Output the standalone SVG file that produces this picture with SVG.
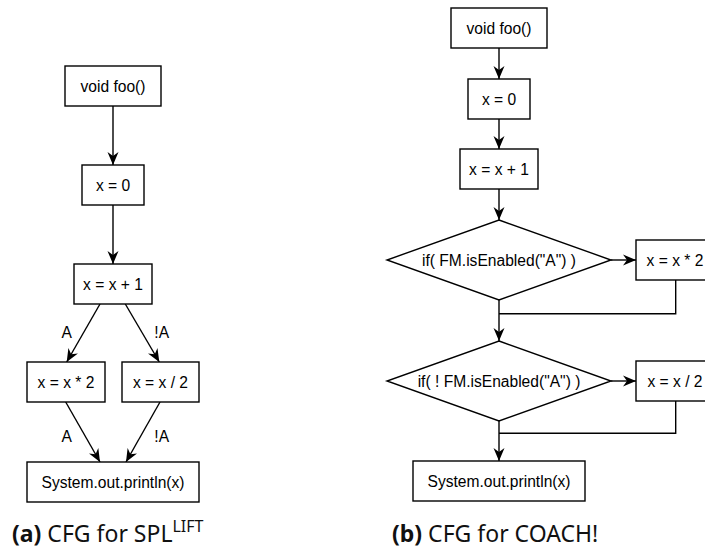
<svg xmlns="http://www.w3.org/2000/svg" width="705" height="547" viewBox="0 0 705 547">
<defs>
<style>
.box{fill:#fff;stroke:#000;stroke-width:1.4}
.t{font-family:"Liberation Sans",Arial,sans-serif;font-size:15.6px;fill:#000;text-anchor:middle}
.e{fill:none;stroke:#000;stroke-width:1.4}
.cap{font-family:"Noto Sans","Open Sans",sans-serif;font-size:23px;fill:#111}
</style>
<marker id="arr" markerUnits="userSpaceOnUse" markerWidth="14" markerHeight="12" refX="13" refY="6" orient="auto" viewBox="0 0 14 12">
<path d="M0,0.5 L13,6 L0,11.5 L4,6 Z" fill="#000"/>
</marker>
</defs>
<rect width="705" height="547" fill="#fff"/>

<g id="connectors">
<line class="e" x1="113" y1="106" x2="113" y2="165" marker-end="url(#arr)"/>
<line class="e" x1="113" y1="205" x2="113" y2="264" marker-end="url(#arr)"/>
<line class="e" x1="100" y1="304" x2="66.7" y2="362" marker-end="url(#arr)"/>
<line class="e" x1="125.3" y1="304" x2="159.3" y2="362" marker-end="url(#arr)"/>
<line class="e" x1="65.7" y1="402" x2="100" y2="462" marker-end="url(#arr)"/>
<line class="e" x1="160" y1="402" x2="126" y2="462" marker-end="url(#arr)"/>
<text class="t" x="66.7" y="337.5">A</text>
<text class="t" x="161.7" y="337.5">!A</text>
<text class="t" x="66.7" y="442">A</text>
<text class="t" x="161.7" y="442">!A</text>

<line class="e" x1="499" y1="48" x2="499" y2="79" marker-end="url(#arr)"/>
<line class="e" x1="499" y1="119" x2="499" y2="149" marker-end="url(#arr)"/>
<line class="e" x1="499" y1="189" x2="499" y2="220" marker-end="url(#arr)"/>
<line class="e" x1="611" y1="260" x2="636" y2="260" marker-end="url(#arr)"/>
<polyline class="e" points="675.7,280 675.7,313.7 499,313.7"/>
<line class="e" x1="499" y1="300" x2="499" y2="341" marker-end="url(#arr)"/>
<line class="e" x1="611" y1="381" x2="636" y2="381" marker-end="url(#arr)"/>
<polyline class="e" points="675.7,401 675.7,433.3 499,433.3"/>
<line class="e" x1="499" y1="421" x2="499" y2="461" marker-end="url(#arr)"/>
</g>

<g id="a-foo"><rect class="box" x="65" y="66" width="96" height="40"/><text class="t" x="113" y="91.5">void foo()</text></g>
<g id="a-x0"><rect class="box" x="82" y="165" width="62" height="40"/><text class="t" x="113" y="190.5">x = 0</text></g>
<g id="a-xp1"><rect class="box" x="74" y="264" width="78" height="40"/><text class="t" x="113" y="289.5">x = x + 1</text></g>
<g id="a-xm2"><rect class="box" x="27" y="362" width="78" height="40"/><text class="t" x="66" y="387.5">x = x * 2</text></g>
<g id="a-xd2"><rect class="box" x="122" y="362" width="77" height="40"/><text class="t" x="160.5" y="387.5">x = x / 2</text></g>
<g id="a-print"><rect class="box" x="27" y="462" width="172" height="40"/><text class="t" x="113" y="487.5">System.out.println(x)</text></g>

<g id="b-foo"><rect class="box" x="451" y="8" width="96" height="40"/><text class="t" x="499" y="33.5">void foo()</text></g>
<g id="b-x0"><rect class="box" x="468" y="79" width="62" height="40"/><text class="t" x="499" y="104.5">x = 0</text></g>
<g id="b-xp1"><rect class="box" x="460" y="149" width="78" height="40"/><text class="t" x="499" y="174.5">x = x + 1</text></g>
<g id="b-if1"><polygon class="box" points="499,220 611,260 499,300 387,260"/><text class="t" x="499" y="265.5">if( FM.isEnabled("A") )</text></g>
<g id="b-xm2"><rect class="box" x="636" y="240" width="78" height="40"/><text class="t" x="675" y="265.5">x = x * 2</text></g>
<g id="b-if2"><polygon class="box" points="499,341 611,381 499,421 387,381"/><text class="t" x="499" y="386.5">if( ! FM.isEnabled("A") )</text></g>
<g id="b-xd2"><rect class="box" x="636" y="361" width="78" height="40"/><text class="t" x="675" y="386.5">x = x / 2</text></g>
<g id="b-print"><rect class="box" x="413" y="461" width="172" height="40"/><text class="t" x="499" y="486.5">System.out.println(x)</text></g>

<g id="captions">
<text class="cap" x="12" y="541.5"><tspan font-weight="bold">(a)</tspan> CFG for SPL<tspan font-size="16" dy="-10">LIFT</tspan></text>
<text class="cap" x="392" y="541.5"><tspan font-weight="bold">(b)</tspan> CFG for COACH!</text>
</g>
</svg>
